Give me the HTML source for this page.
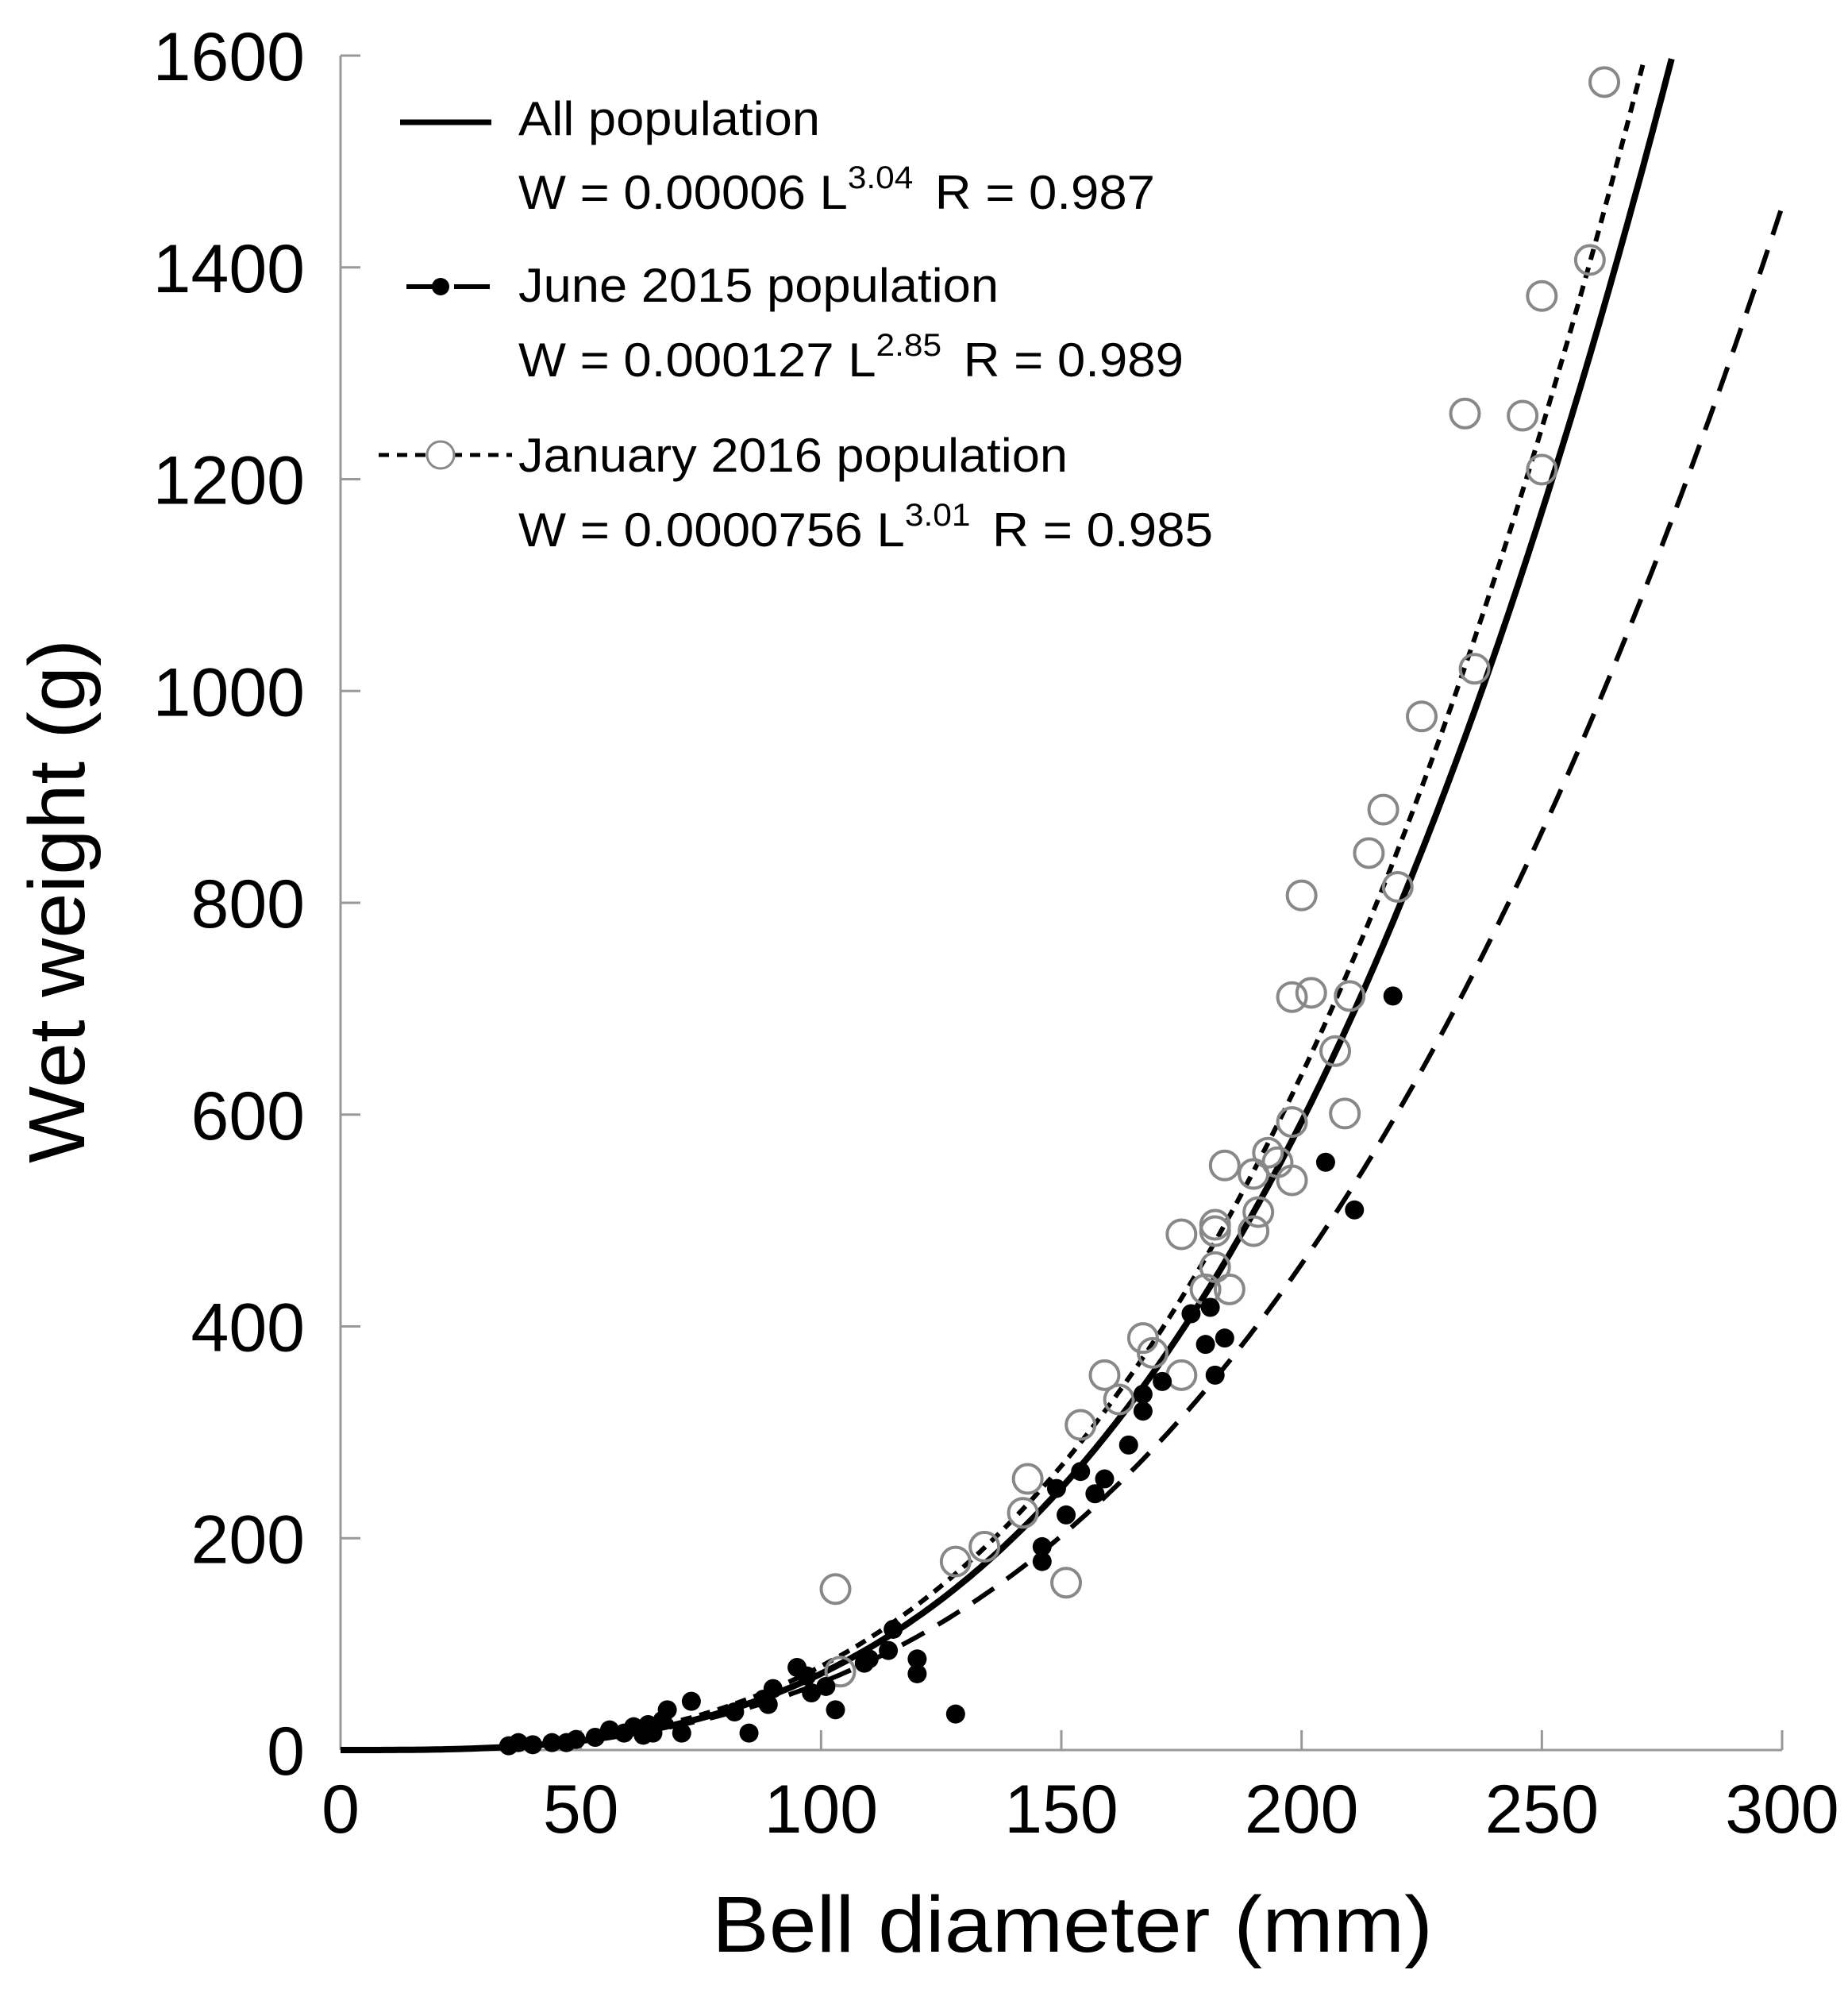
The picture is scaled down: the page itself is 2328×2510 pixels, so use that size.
<!DOCTYPE html>
<html><head><meta charset="utf-8"><style>html,body{margin:0;padding:0;background:#fff}svg{display:block}</style></head>
<body>
<svg id="chart" width="2328" height="2510" viewBox="0 0 2328 2510" xmlns="http://www.w3.org/2000/svg" font-family="'Liberation Sans', Arial, sans-serif">
<g id="axes"></g>
<g id="curves"></g>
<g id="points"></g>
<g id="legend">
  <line x1="504" y1="154" x2="619" y2="154" stroke="#000" stroke-width="7"/>
  <text x="653" y="170" font-size="60" textLength="380" lengthAdjust="spacingAndGlyphs">All population</text>
  <text x="653" y="263" font-size="60" textLength="802" lengthAdjust="spacingAndGlyphs">W = 0.00006 L<tspan font-size="40" dy="-26">3.04</tspan><tspan dy="26" dx="26">R = 0.987</tspan></text>
  <line x1="512" y1="361" x2="550" y2="361" stroke="#000" stroke-width="6"/>
  <circle cx="555" cy="361" r="11" fill="#000"/>
  <line x1="572" y1="361" x2="617" y2="361" stroke="#000" stroke-width="6"/>
  <text x="653" y="380" font-size="60" textLength="605" lengthAdjust="spacingAndGlyphs">June 2015 population</text>
  <text x="653" y="474" font-size="60" textLength="838" lengthAdjust="spacingAndGlyphs">W = 0.000127 L<tspan font-size="40" dy="-26">2.85</tspan><tspan dy="26" dx="26">R = 0.989</tspan></text>
  <line x1="477" y1="573" x2="645" y2="573" stroke="#000" stroke-width="5" stroke-dasharray="13,10"/>
  <circle cx="555" cy="573" r="17" fill="#fff" stroke="#888" stroke-width="3"/>
  <text x="653" y="594" font-size="60" textLength="692" lengthAdjust="spacingAndGlyphs">January 2016 population</text>
  <text x="653" y="688" font-size="60" textLength="875" lengthAdjust="spacingAndGlyphs">W = 0.0000756 L<tspan font-size="40" dy="-26">3.01</tspan><tspan dy="26" dx="26">R = 0.985</tspan></text>
</g>
</svg>
<script>
const xTicks = [0, 50, 100, 150, 200, 250, 300];
const yTicks = [0, 200, 400, 600, 800, 1000, 1200, 1400, 1600];
const janX = [263,260,250,234,246,250,236,225,217,214,220,200,198,202,210,207,209,198,193,195,184,190,198,191,190,182,182,175,182,180,185,167,169,175,159,162,154,143,142,134,128,151,103,104];
const janY = [1575,1407,1373,1262,1260,1209,1021,976,888,847,815,807,711,715,712,660,601,593,564,555,552,544,538,508,490,496,490,487,456,435,435,389,375,354,354,331,307,256,224,192,178,158,152,74];
const juneX = [219,205,211,184,180,182,181,177,171,167,167,164,159,157,154,151,149,146,146,128,120,120,114,115,110,103,95,98,90,89,85,82,73,71,68,67,64,61,59,56,53,49,47,44,40,37,35,63,65,88,97,101,109];
const juneY = [712,555,510,389,383,354,418,412,348,336,320,288,256,242,263,222,247,192,178,34,86,72,94,114,86,38,78,54,58,43,16,36,46,16,38,28,24,22,16,19,12,10,7,7,5,7,4,14,16,48,70,60,82];
const fitA = [0.00006, 0.000127, 0.0000756];
const fitB = [3.04, 2.85, 3.01];

const NS = 'http://www.w3.org/2000/svg';
const X0 = 429, X1 = 2245, Y0 = 2204, Y1 = 70;
const sx = v => X0 + (v - 0) / 300 * (X1 - X0);
const sy = v => Y0 - v / 1600 * (Y0 - Y1);
function mk(tag, attrs, parent) {
  const e = document.createElementNS(NS, tag);
  for (const k in attrs) e.setAttribute(k, attrs[k]);
  parent.appendChild(e);
  return e;
}
const axes = document.getElementById('axes');
let e;
e = mk('line', {x1: X0, y1: Y1, x2: X0, y2: Y0, stroke: '#999', 'stroke-width': 3}, axes);


e = mk('line', {x1: X0, y1: Y0, x2: X1, y2: Y0, stroke: '#999', 'stroke-width': 3}, axes);


yTicks.forEach(t => {
  const y = sy(t);
  const l = mk('line', {x1: X0, y1: y, x2: X0 + 25, y2: y, stroke: '#999', 'stroke-width': 3}, axes);
  
  
  const tx = mk('text', {x: 384, y: y + 31, 'font-size': 86, 'text-anchor': 'end'}, axes);
  tx.textContent = t;
  
  
});
xTicks.forEach(t => {
  const x = sx(t);
  const l = mk('line', {x1: x, y1: Y0, x2: x, y2: Y0 - 25, stroke: '#999', 'stroke-width': 3}, axes);
  
  
  const tx = mk('text', {x: x, y: 2308, 'font-size': 86, 'text-anchor': 'middle'}, axes);
  tx.textContent = t;
  
  
});
e = mk('text', {x: 1351, y: 2458, 'font-size': 100, 'text-anchor': 'middle', textLength: 908, lengthAdjust: 'spacingAndGlyphs'}, axes);
e.textContent = 'Bell diameter (mm)';


e = mk('text', {x: 0, y: 0, 'font-size': 100, 'text-anchor': 'middle', transform: 'translate(106,1135) rotate(-90)', textLength: 660, lengthAdjust: 'spacingAndGlyphs'}, axes);
e.textContent = 'Wet weight (g)';



const curves = document.getElementById('curves');
const styles = [
  {w: 8, dash: '', name: 'curve-all'},
  {w: 6, dash: '32,20', name: 'curve-june'},
  {w: 6, dash: '14,10', name: 'curve-january'}
];
[1, 2, 0].forEach(i => {
  let d = '';
  for (let L = 0; L <= 300; L += 1) {
    const W = fitA[i] * Math.pow(L, fitB[i]);
    if (W > 1600) break;
    d += (d ? 'L' : 'M') + sx(L).toFixed(1) + ',' + sy(W).toFixed(1);
  }
  const p = mk('path', {d: d, fill: 'none', stroke: '#000', 'stroke-width': styles[i].w}, curves);
  if (styles[i].dash) p.setAttribute('stroke-dasharray', styles[i].dash);
  
  
});

const pts = document.getElementById('points');
janX.forEach((v, i) => {
  const c = mk('circle', {cx: sx(v), cy: sy(janY[i]), r: 18, fill: 'none', stroke: '#888', 'stroke-width': 4}, pts);
  
  
});
juneX.forEach((v, i) => {
  const c = mk('circle', {cx: sx(v), cy: sy(juneY[i]), r: 12, fill: '#000'}, pts);
  
  
});
</script>
</body></html>
